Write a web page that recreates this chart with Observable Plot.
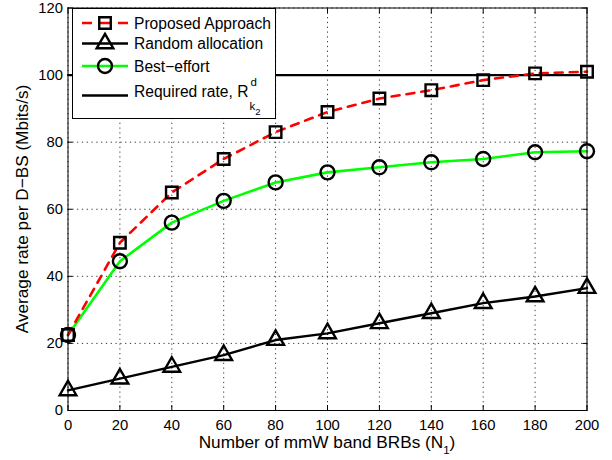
<!DOCTYPE html>
<html>
<head>
<meta charset="utf-8">
<script src="https://cdn.jsdelivr.net/npm/d3@7"></script>
<script src="https://cdn.jsdelivr.net/npm/@observablehq/plot@0.6"></script>
<style>
  html, body { margin: 0; padding: 0; background: white; }
  #chart { position: relative; width: 612px; height: 460px; }
</style>
</head>
<body>
<div id="chart"></div>
<script>
const xValues = [0, 20, 40, 60, 80, 100, 120, 140, 160, 180, 200];
const proposed = [22.5, 50, 65, 75, 83, 89, 93, 95.5, 98.5, 100.5, 101];
const randomAlloc = [6, 9.5, 13, 16.5, 21, 23, 26, 29, 32, 34, 36.5];
const bestEffort = [22.5, 44.5, 56, 62.5, 68, 71, 72.5, 74, 75, 77, 77.3];
const requiredRate = [100, 100];
const requiredX = [0, 200];
const xTicks = [0, 20, 40, 60, 80, 100, 120, 140, 160, 180, 200];
const yTicks = [0, 20, 40, 60, 80, 100, 120];

const toRows = (ys) => xValues.map((x, i) => ({x, y: ys[i]}));
const propRows = toRows(proposed);
const randRows = toRows(randomAlloc);
const bestRows = toRows(bestEffort);
const reqRows = requiredX.map((x, i) => ({x, y: requiredRate[i]}));

const FONT = "'Liberation Sans', Arial, Helvetica, sans-serif";
const GREEN = "#00ff00";
const RED = "#ff0000";

const chart = Plot.plot({
  width: 612,
  height: 460,
  marginLeft: 67.5,
  marginRight: 25.5,
  marginTop: 7.5,
  marginBottom: 50,
  style: {fontFamily: FONT, fontSize: "14.8px", background: "white", color: "black"},
  x: {domain: [0, 200]},
  y: {domain: [0, 120]},
  marks: [
    Plot.gridX(xTicks, {stroke: "#333", strokeOpacity: 1, strokeWidth: 1, strokeDasharray: "1.2,3.6"}),
    Plot.gridY(yTicks, {stroke: "#333", strokeOpacity: 1, strokeWidth: 1, strokeDasharray: "1.2,3.6"}),
    Plot.line(reqRows, {x: "x", y: "y", stroke: "black", strokeWidth: 2.2}),
    Plot.line(randRows, {x: "x", y: "y", stroke: "black", strokeWidth: 2.4}),
    Plot.line(bestRows, {x: "x", y: "y", stroke: GREEN, strokeWidth: 2.6}),
    Plot.line(propRows, {x: "x", y: "y", stroke: RED, strokeWidth: 2.6, strokeDasharray: "8,7"}),
    Plot.dot(randRows, {x: "x", y: "y", symbol: "triangle", r: 6.2, stroke: "black", strokeWidth: 2.4, fill: "none"}),
    Plot.dot(bestRows, {x: "x", y: "y", symbol: "circle", r: 7, stroke: "black", strokeWidth: 2.4, fill: "none"}),
    Plot.dot(propRows, {x: "x", y: "y", symbol: "square", r: 6.5, stroke: "black", strokeWidth: 2.4, fill: "none"}),
    Plot.frame({stroke: "black", strokeWidth: 1}),
    Plot.axisX(xTicks, {anchor: "bottom", tickSize: -5, tickPadding: 14, label: null}),
    Plot.axisX(xTicks, {anchor: "top", tickSize: -5, tickFormat: () => "", label: null}),
    Plot.axisY(yTicks, {anchor: "left", tickSize: -5, tickPadding: 10, label: null}),
    Plot.axisY(yTicks, {anchor: "right", tickSize: -5, tickFormat: () => "", label: null})
  ]
});

document.getElementById("chart").appendChild(chart);

const svg = d3.select(chart);

// Axis labels
const xl = svg.append("text")
  .attr("x", 327).attr("y", 447.5)
  .attr("text-anchor", "middle")
  .attr("font-family", FONT).attr("font-size", "17.2px").attr("fill", "black");
xl.append("tspan").text("Number of mmW band BRBs (N");
xl.append("tspan").text("1").attr("font-size", "11.5px").attr("dy", 6);
xl.append("tspan").text(")").attr("dy", -6);

svg.append("text")
  .attr("transform", "translate(28,209) rotate(-90)")
  .attr("text-anchor", "middle")
  .attr("font-family", FONT).attr("font-size", "17.2px").attr("fill", "black")
  .text("Average rate per D\u2212BS (Mbits/s)");

// Legend (layout only)
const lg = svg.append("g").attr("transform", "translate(72,8)").attr("text-anchor", "start");
lg.append("rect").attr("x", 0.5).attr("y", 0.5).attr("width", 203).attr("height", 110)
  .attr("fill", "white").attr("stroke", "black").attr("stroke-width", 1);

const rows = [
  {label: "Proposed Approach", stroke: RED, dash: "10,8", sym: d3.symbolSquare, r: 6.5, cy: 15},
  {label: "Random allocation", stroke: "black", dash: null, sym: d3.symbolTriangle, r: 6.2, cy: 35.5},
  {label: "Best\u2212effort", stroke: GREEN, dash: null, sym: d3.symbolCircle, r: 7, cy: 58},
  {label: "Required rate, R", stroke: "black", dash: null, sym: null, r: 0, cy: 87.5}
];
rows.forEach(row => {
  const ly = row.cy;
  lg.append("line").attr("x1", 10).attr("x2", 56).attr("y1", ly).attr("y2", ly)
    .attr("stroke", row.stroke).attr("stroke-width", row.stroke === GREEN || row.stroke === RED ? 2.6 : 2.4)
    .attr("stroke-dasharray", row.dash);
  if (row.sym) {
    lg.append("path").attr("transform", `translate(33,${ly})`)
      .attr("d", d3.symbol(row.sym, row.r * row.r * Math.PI)())
      .attr("fill", "none").attr("stroke", "black").attr("stroke-width", 2.4);
  }
  const t = lg.append("text").attr("x", 62)
    .attr("y", row.sym ? ly : 89).attr("dy", row.sym ? "0.36em" : 0)
    .attr("text-anchor", "start")
    .attr("font-family", FONT).attr("font-size", "15.6px").attr("fill", "black")
    .text(row.label);
  if (!row.sym) {
    const w = t.node().getComputedTextLength();
    lg.append("text").attr("x", 62 + w + 2).attr("y", 78)
      .attr("text-anchor", "start")
      .attr("font-family", FONT).attr("font-size", "11.5px").attr("fill", "black").text("d");
    const k = lg.append("text").attr("x", 62 + w + 1).attr("y", 101.5)
      .attr("text-anchor", "start")
      .attr("font-family", FONT).attr("font-size", "11.5px").attr("fill", "black");
    k.append("tspan").text("k");
    k.append("tspan").text("2").attr("font-size", "9.5px").attr("dy", 5);
  }
});
</script>
</body>
</html>
